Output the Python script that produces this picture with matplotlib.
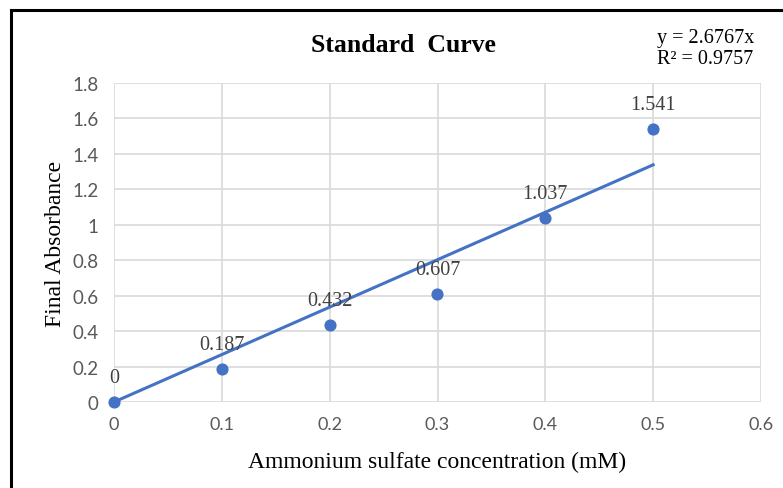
import matplotlib.pyplot as plt
from matplotlib.lines import Line2D
import numpy as np

conc = [0, 0.1, 0.2, 0.3, 0.4, 0.5]
absorb = [0, 0.187, 0.432, 0.607, 1.037, 1.541]
labels = ['0', '0.187', '0.432', '0.607', '1.037', '1.541']
slope = 2.6767
r2 = 0.9757

blue = '#4472C4'
grid = '#d9d9d9'
tick_col = '#595959'
serif = 'Liberation Serif'

fig = plt.figure(figsize=(7.83, 4.89), dpi=100)
ax = fig.add_axes([114/783, 1-403/489, (761-114)/783, (403-84)/489])

ax.set_xlim(0, 0.6)
ax.set_ylim(0, 1.8)
ax.set_xticks(np.arange(0, 0.61, 0.1))
ax.set_yticks(np.arange(0, 1.81, 0.2))
ax.set_xticklabels(['0', '0.1', '0.2', '0.3', '0.4', '0.5', '0.6'])
ax.set_yticklabels(['0', '0.2', '0.4', '0.6', '0.8', '1', '1.2', '1.4', '1.6', '1.8'])
ax.grid(True, color=grid, lw=1.2)
ax.set_axisbelow(True)
for s in ax.spines.values():
    s.set_visible(False)
ax.tick_params(axis='y', length=0, colors=tick_col, labelsize=13.5, pad=11)
ax.tick_params(axis='x', length=0, colors=tick_col, labelsize=13, pad=10)
for t in ax.get_xticklabels() + ax.get_yticklabels():
    t.set_family('Lato')

# trendline
xs = np.array([0, conc[-1]])
ax.plot(xs, slope * xs, color=blue, lw=2.2, zorder=3)
ax.scatter(conc, absorb, s=60, color=blue, zorder=4, clip_on=False)

for x, y, lab in zip(conc, absorb, labels):
    ax.annotate(lab, (x, y), xytext=(0, 11), textcoords='offset points',
                ha='center', va='bottom', family=serif, fontsize=14.5, color='#404040')

ax.set_xlabel('Ammonium sulfate concentration (mM)', family=serif, fontsize=17, labelpad=14)
ax.set_ylabel('Final Absorbance', family=serif, fontsize=17, labelpad=5)

fig.text(403/783, 1-46/489, 'Standard  Curve', family=serif, fontweight='bold',
         fontsize=18.5, ha='center', va='center')
fig.text(657/783, 1-38/489, 'y = 2.6767x', family=serif, fontsize=14.5, ha='left', va='center')
fig.text(657/783, 1-59/489, 'R² = 0.9757', family=serif, fontsize=14.5, ha='left', va='center')

# frame border (left and top only visible)
fig.add_artist(Line2D([11/783, 11/783], [0, 1-11/489], color='black', lw=2.2, transform=fig.transFigure))
fig.add_artist(Line2D([11/783, 1], [1-11/489, 1-11/489], color='black', lw=2.2, transform=fig.transFigure))

fig.savefig('out.png', dpi=100)
